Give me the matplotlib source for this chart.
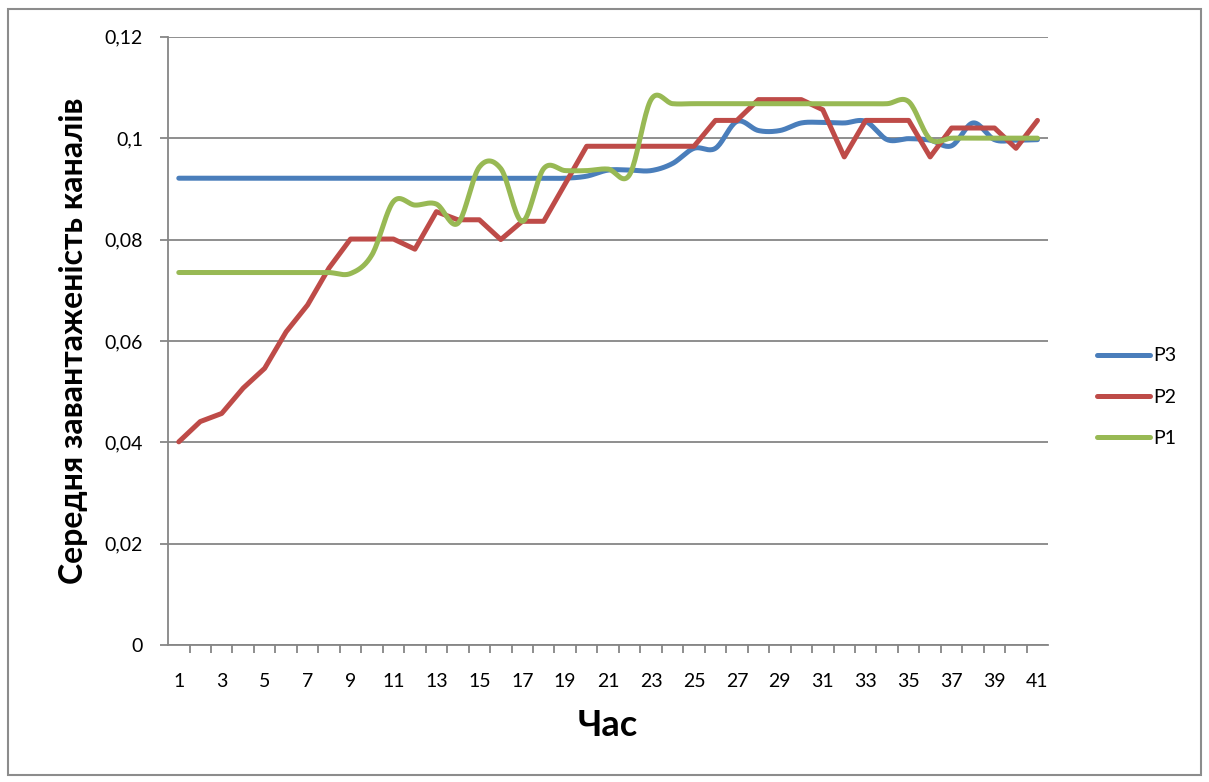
import numpy as np
import matplotlib
matplotlib.use("Agg")
import matplotlib.pyplot as plt
from matplotlib.patches import Rectangle

plt.rcParams['font.family'] = ['Lato', 'Open Sans', 'DejaVu Sans']

hours = list(range(1, 42))

p3 = [0.0921, 0.0921, 0.0921, 0.0921, 0.0921, 0.0921, 0.0921, 0.0921, 0.0921, 0.0921,
      0.0921, 0.0921, 0.0921, 0.0921, 0.0921, 0.0921, 0.0921, 0.0921, 0.0921, 0.0925,
      0.0937, 0.0937, 0.0936, 0.0950, 0.0980, 0.0980, 0.1033, 0.1015, 0.1015, 0.1030,
      0.1031, 0.1030, 0.1033, 0.0997, 0.0999, 0.0996, 0.0985, 0.1030, 0.0997, 0.0996,
      0.0997]

p2 = [0.0401, 0.0441, 0.0457, 0.0507, 0.0546, 0.0618, 0.0671, 0.0744, 0.0801, 0.0801,
      0.0801, 0.0781, 0.0855, 0.0839, 0.0839, 0.0800, 0.0836, 0.0836, 0.0910, 0.0984,
      0.0984, 0.0984, 0.0984, 0.0984, 0.0984, 0.1035, 0.1035, 0.1076, 0.1076, 0.1076,
      0.1056, 0.0963, 0.1035, 0.1035, 0.1035, 0.0963, 0.1020, 0.1020, 0.1020, 0.0980,
      0.1035]

p1 = [0.0735, 0.0735, 0.0735, 0.0735, 0.0735, 0.0735, 0.0735, 0.0735, 0.0733, 0.0770,
      0.0875, 0.0868, 0.0870, 0.0832, 0.0943, 0.0940, 0.0836, 0.0940, 0.0936, 0.0936,
      0.0939, 0.0928, 0.1076, 0.1068, 0.1068, 0.1068, 0.1068, 0.1068, 0.1068, 0.1068,
      0.1068, 0.1068, 0.1068, 0.1068, 0.1072, 0.0998, 0.1000, 0.1000, 0.1000, 0.1000,
      0.1000]

yticks = [0, 0.02, 0.04, 0.06, 0.08, 0.1, 0.12]
ytick_labels = ["0", "0,02", "0,04", "0,06", "0,08", "0,1", "0,12"]


# сглаживание линий как в Excel (Catmull-Rom)
def smooth(xs, ys, n=20):
    x = np.array(xs, dtype=float)
    y = np.array(ys, dtype=float)
    px = np.concatenate([[x[0]], x, [x[-1]]])
    py = np.concatenate([[y[0]], y, [y[-1]]])
    ox, oy = [], []
    t = np.linspace(0, 1, n, endpoint=False)
    for i in range(1, len(px) - 2):
        bx = [px[i], px[i] + (px[i + 1] - px[i - 1]) / 6, px[i + 1] - (px[i + 2] - px[i]) / 6, px[i + 1]]
        by = [py[i], py[i] + (py[i + 1] - py[i - 1]) / 6, py[i + 1] - (py[i + 2] - py[i]) / 6, py[i + 1]]
        for k, b in ((0, bx), (1, by)):
            c = ((1 - t) ** 3) * b[0] + 3 * ((1 - t) ** 2) * t * b[1] + 3 * (1 - t) * t ** 2 * b[2] + t ** 3 * b[3]
            (ox if k == 0 else oy).extend(c)
    ox.append(x[-1])
    oy.append(y[-1])
    return np.array(ox), np.array(oy)


fig = plt.figure(figsize=(12.09, 7.82), dpi=100)
ax = fig.add_axes([0.139, 0.175, 0.728, 0.778])

sx, sy = smooth(hours, p3)
ax.plot(sx, sy, color="#4A7EBB", linewidth=3.6, label="P3", solid_capstyle="round")
ax.plot(hours, p2, color="#BE4B48", linewidth=3.6, label="P2", solid_capstyle="round")
sx, sy = smooth(hours, p1)
ax.plot(sx, sy, color="#98B954", linewidth=3.6, label="P1", solid_capstyle="round")

ax.set_ylim(0, 0.12)
ax.set_xlim(0.5, 41.5)
ax.set_yticks(yticks)
ax.set_yticklabels(ytick_labels, fontsize=14)
ax.set_xticks(hours[::2])
ax.set_xticklabels([str(h) for h in hours[::2]], fontsize=14)
ax.set_xticks(np.arange(1.5, 41.5, 1), minor=True)
ax.tick_params(axis="x", which="major", length=0, pad=20)
ax.tick_params(axis="x", which="minor", length=6, color="#868686", width=1.3)
ax.tick_params(axis="y", length=6, color="#868686", width=1.3, pad=12)
ax.grid(axis="y", color="#868686", linewidth=1.3)
ax.set_axisbelow(True)
for s in ["top", "right"]:
    ax.spines[s].set_visible(False)
for s in ["left", "bottom"]:
    ax.spines[s].set_color("#868686")
    ax.spines[s].set_linewidth(1.3)

ax.set_ylabel("Середня завантаженість каналів", fontsize=23, fontweight="bold", labelpad=12)
ax.set_xlabel("Час", fontsize=26, fontweight="bold", labelpad=14)

fig.legend(loc="center left", bbox_to_anchor=(0.893, 0.492), frameon=False, fontsize=14,
           handlelength=2.7, labelspacing=1.25, handletextpad=0.2)

fig.patches.append(Rectangle((0.007, 0.009), 0.986, 0.98, transform=fig.transFigure,
                             fill=False, edgecolor="#8c8c8c", linewidth=1.5))

fig.savefig("out.png", dpi=100)
